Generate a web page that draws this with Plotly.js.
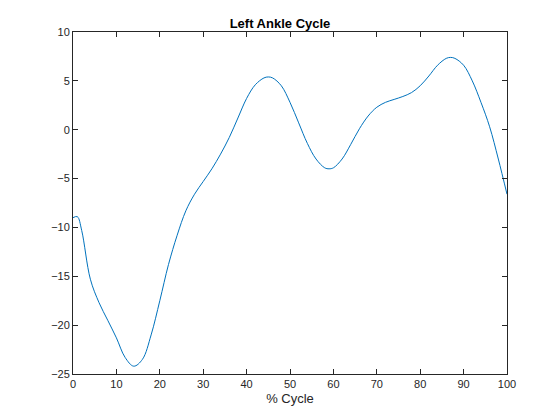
<!DOCTYPE html>
<html>
<head>
<script src="https://cdn.plot.ly/plotly-3.0.1.min.js"></script>
<style>body{margin:0}#chart{width:560px;height:420px}</style>
</head>
<body>
<div id="chart"></div>
<script>
var cycle = [0,1,2,4,6,8,10,12,14,16,18,20,22,24,26,28,30,32,34,36,38,40,42,44,45,46,48,50,52,54,56,58,59,60,62,64,66,68,70,72,74,76,78,80,82,84,86,87,88,90,92,94,96,98,100];
var angle = [-9.0,-8.9,-10.3,-15.3,-17.7,-19.5,-21.3,-23.3,-24.2,-23.5,-21,-17.5,-13.8,-10.8,-8.3,-6.6,-5.3,-4.0,-2.5,-0.8,1.2,3.2,4.6,5.3,5.4,5.3,4.5,2.8,0.7,-1.4,-3.0,-3.9,-4.0,-3.9,-3.0,-1.5,0.1,1.4,2.3,2.8,3.1,3.4,3.8,4.5,5.5,6.6,7.3,7.4,7.3,6.6,5.0,2.8,0.3,-3.0,-6.6];

var axisStyle = {
    showgrid: false, zeroline: false, showline: true, mirror: 'ticks',
    linecolor: '#262626', linewidth: 1, ticks: 'inside', ticklen: 5,
    tickcolor: '#262626', tickfont: {size: 11, color: '#262626'}
};
var layout = {
    width: 560, height: 420,
    margin: {l: 73, r: 53, t: 32, b: 46},
    font: {family: 'Liberation Sans, Arial, sans-serif'},
    paper_bgcolor: '#ffffff', plot_bgcolor: '#ffffff',
    showlegend: false,
    separators: '.,',
    title: {text: '<b>Left Ankle Cycle</b>', font: {size: 13, color: '#000'}, x: 0.5, y: 0.955, xanchor: 'center'},
    xaxis: Object.assign({range: [0, 100], dtick: 10,
        title: {text: '% Cycle', font: {size: 13, color: '#262626'}, standoff: 4}}, axisStyle),
    yaxis: Object.assign({range: [-25, 10], dtick: 5}, axisStyle)
};
Plotly.newPlot('chart', [{
    x: cycle, y: angle, mode: 'lines', type: 'scatter',
    line: {color: '#0072BD', width: 1, shape: 'spline', smoothing: 1}
}], layout, {staticPlot: true});
</script>
</body>
</html>
